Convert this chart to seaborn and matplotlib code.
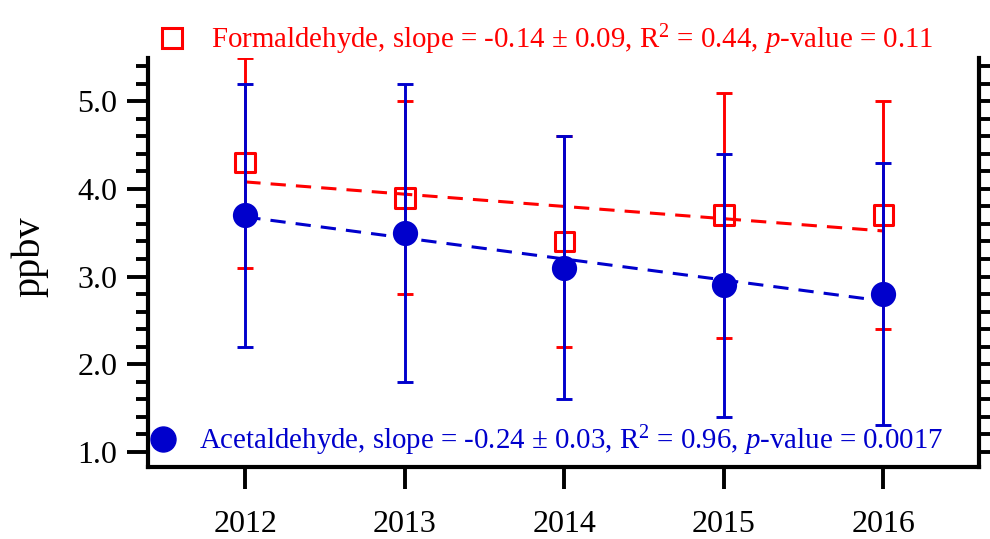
import numpy as np
import pandas as pd
import matplotlib
matplotlib.use("Agg")
import matplotlib.pyplot as plt
import seaborn as sns
from matplotlib.lines import Line2D
from matplotlib.ticker import MultipleLocator, FormatStrFormatter

# values
years = [2012, 2013, 2014, 2015, 2016]
form_mean = [4.3, 3.9, 3.4, 3.7, 3.7]
form_err = [1.2, 1.1, 1.2, 1.4, 1.3]
acet_mean = [3.7, 3.5, 3.1, 2.9, 2.8]
acet_err = [1.5, 1.7, 1.5, 1.5, 1.5]

form_label = r"Formaldehyde, slope = -0.14 ± 0.09, R$^{2}$ = 0.44, $p$-value = 0.11"
acet_label = r"Acetaldehyde, slope = -0.24 ± 0.03, R$^{2}$ = 0.96, $p$-value = 0.0017"

RED = "#ff0000"
BLUE = "#0000cc"

sns.set_style("ticks")
plt.rcParams["font.family"] = ["Liberation Serif", "DejaVu Serif"]
plt.rcParams["mathtext.fontset"] = "custom"
plt.rcParams["mathtext.rm"] = "Liberation Serif"
plt.rcParams["mathtext.it"] = "Liberation Serif:italic"
for key in ["text.color", "axes.labelcolor", "xtick.color", "ytick.color", "axes.edgecolor"]:
    plt.rcParams[key] = "black"

df = pd.DataFrame({"year": years, "form": form_mean, "acet": acet_mean})

fig = plt.figure(figsize=(9.9, 5.39), dpi=100)
ax = fig.add_axes([0.1495, 0.1336, 0.8395, 0.7588])

dash = (0, (5, 3.3))

# formaldehyde (drawn first, sits underneath)
ax.errorbar(years, form_mean, yerr=form_err, fmt="none", ecolor=RED,
            elinewidth=2.1, capsize=6, capthick=2.1, zorder=2)
sns.regplot(data=df, x="year", y="form", ax=ax, ci=None, scatter=False,
            truncate=True, line_kws=dict(color=RED, lw=2.2, linestyle=dash, zorder=3))
sns.scatterplot(data=df, x="year", y="form", ax=ax, marker="s", s=200,
                facecolor="none", edgecolor=RED, linewidth=2.2, zorder=4)

# acetaldehyde
ax.errorbar(years, acet_mean, yerr=acet_err, fmt="none", ecolor=BLUE,
            elinewidth=2.1, capsize=6, capthick=2.1, zorder=5)
sns.regplot(data=df, x="year", y="acet", ax=ax, ci=None, scatter=False,
            truncate=True, line_kws=dict(color=BLUE, lw=2.2, linestyle=dash, zorder=6))
sns.scatterplot(data=df, x="year", y="acet", ax=ax, marker="o", s=330,
                color=BLUE, edgecolor=BLUE, linewidth=0, zorder=7)

ax.set_xlim(2011.39, 2016.6)
ax.set_ylim(0.825, 5.495)
ax.set_xticks(years)
ax.set_xticklabels([str(y) for y in years])
ax.yaxis.set_major_locator(MultipleLocator(1.0))
ax.yaxis.set_minor_locator(MultipleLocator(0.2))
ax.yaxis.set_major_formatter(FormatStrFormatter("%.1f"))

ax.spines["top"].set_visible(False)
for side in ["left", "right", "bottom"]:
    ax.spines[side].set_linewidth(3.0)
    ax.spines[side].set_color("black")

ax.tick_params(axis="x", which="major", direction="out", length=16, width=2.8,
               labelsize=23, pad=15, top=False, color="black", labelcolor="black")
ax.tick_params(axis="y", which="major", direction="out", length=15, width=2.8,
               labelsize=23, pad=7, left=True, right=True, color="black", labelcolor="black")
ax.tick_params(axis="y", which="minor", direction="out", length=8.5, width=2.8,
               left=True, right=True, color="black")

ax.set_xlabel("")
ax.set_ylabel("ppbv", fontsize=29, color="black")
ax.yaxis.set_label_coords(-0.12, 0.513)

h_form = Line2D([], [], marker="s", ls="none", markersize=14, markerfacecolor="none",
                markeredgecolor=RED, markeredgewidth=2.2)
h_acet = Line2D([], [], marker="o", ls="none", markersize=18, markerfacecolor=BLUE,
                markeredgecolor=BLUE)

leg1 = fig.legend([h_form], [form_label], loc="center left", bbox_to_anchor=(0.1596, 0.926),
                  frameon=False, fontsize=20.8, labelcolor=RED, borderpad=0, borderaxespad=0,
                  handlelength=1.0, handletextpad=0.83)
leg2 = fig.legend([h_acet], [acet_label], loc="center left", bbox_to_anchor=(0.1505, 0.182),
                  frameon=False, fontsize=20.8, labelcolor=BLUE, borderpad=0, borderaxespad=0,
                  handlelength=1.0, handletextpad=0.73)

fig.savefig("out.png", dpi=100)
